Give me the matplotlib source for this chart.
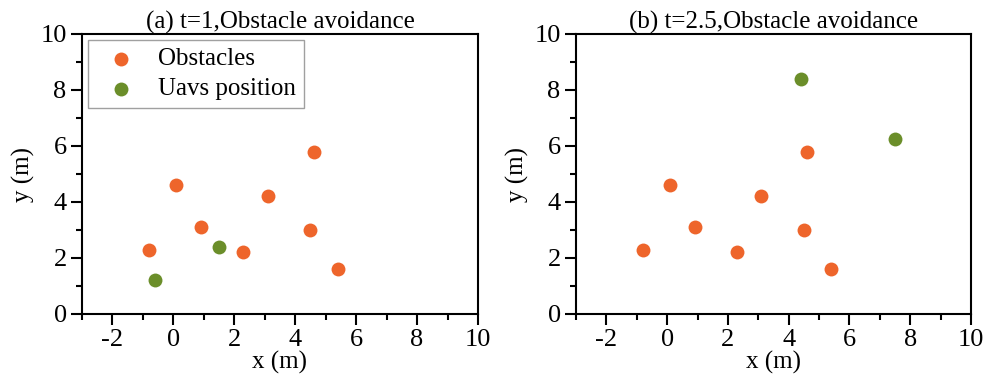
import matplotlib
matplotlib.use("Agg")
import matplotlib.pyplot as plt
from matplotlib.ticker import MultipleLocator

plt.rcParams["font.family"] = ["Liberation Serif", "DejaVu Serif"]
plt.rcParams["axes.unicode_minus"] = False

obstacle_x = [-0.8, 0.1, 0.9, 2.3, 3.1, 4.5, 4.6, 5.4]
obstacle_y = [2.3, 4.6, 3.1, 2.2, 4.2, 3.0, 5.8, 1.6]

uav_x_t1 = [-0.6, 1.5]
uav_y_t1 = [1.2, 2.4]

uav_x_t25 = [4.4, 7.5]
uav_y_t25 = [8.4, 6.25]

titles = ["(a) t=1,Obstacle avoidance", "(b) t=2.5,Obstacle avoidance"]

ORANGE = "#EE652B"
GREEN = "#6B8E2A"

fig = plt.figure(figsize=(9.86, 3.82), dpi=100)
ax_a = fig.add_axes([82 / 986, 1 - 314 / 382, 396 / 986, 280 / 382])
ax_b = fig.add_axes([576 / 986, 1 - 314 / 382, 395 / 986, 280 / 382])

panels = [
    (ax_a, uav_x_t1, uav_y_t1, titles[0], True),
    (ax_b, uav_x_t25, uav_y_t25, titles[1], False),
]

for ax, ux, uy, title, show_legend in panels:
    ax.scatter(obstacle_x, obstacle_y, s=100, color=ORANGE, linewidths=0,
               label="Obstacles", zorder=3)
    ax.scatter(ux, uy, s=100, color=GREEN, linewidths=0,
               label="Uavs position", zorder=3)

    ax.set_xlim(-3, 10)
    ax.set_ylim(0, 10)
    ax.xaxis.set_major_locator(MultipleLocator(2))
    ax.xaxis.set_minor_locator(MultipleLocator(1))
    ax.yaxis.set_major_locator(MultipleLocator(2))
    ax.yaxis.set_minor_locator(MultipleLocator(1))
    ax.tick_params(which="major", direction="out", length=8, width=1.5,
                   labelsize=19, pad=3)
    ax.tick_params(which="minor", direction="out", length=4.5, width=1.5)
    for spine in ax.spines.values():
        spine.set_linewidth(1.5)

    ax.set_xlabel("x (m)", fontsize=18, labelpad=0)
    ax.set_ylabel("y (m)", fontsize=18, labelpad=4)
    ax.set_title(title, fontsize=18, pad=1)

    if show_legend:
        leg = ax.legend(loc="upper left", fontsize=18, frameon=True,
                        fancybox=False, edgecolor="#888888",
                        handletextpad=0.5, borderpad=0.3,
                        labelspacing=0.3, handlelength=2.0,
                        borderaxespad=0.25, scatterpoints=1)
        leg.get_frame().set_linewidth(1.0)

fig.savefig("out.png", dpi=100)
